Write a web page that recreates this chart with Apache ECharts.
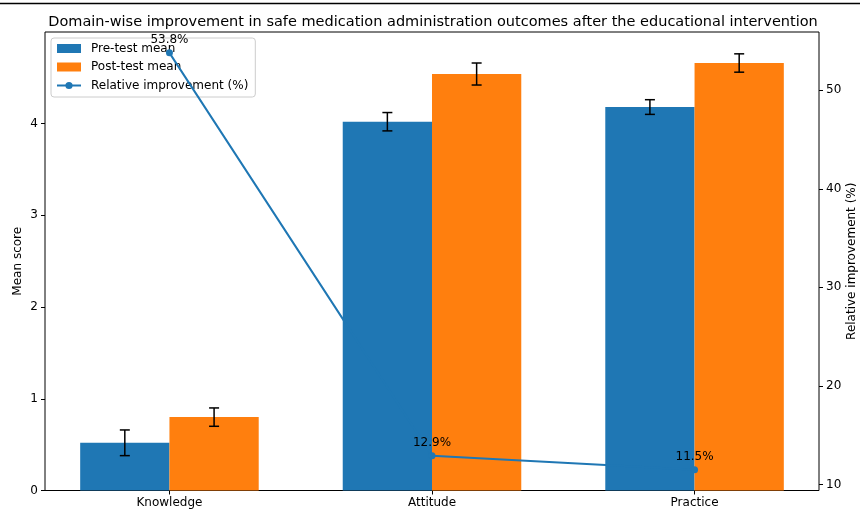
<!DOCTYPE html>
<html>
<head>
<meta charset="utf-8">
<script src="https://cdn.jsdelivr.net/npm/echarts@6/dist/echarts.min.js"></script>
<style>html,body{margin:0;padding:0;background:#fff}#c{width:860px;height:511px}</style>
</head>
<body>
<div id="c"></div>
<script>
const categories = ['Knowledge', 'Attitude', 'Practice'];
const preMean = [0.52, 4.02, 4.18];
const preErr = [0.14, 0.10, 0.08];
const postMean = [0.80, 4.54, 4.66];
const postErr = [0.10, 0.12, 0.10];
const improvement = [53.8, 12.9, 11.5];
const leftTicks = [0, 1, 2, 3, 4];
const rightTicks = [10, 20, 30, 40, 50];

const FONT = 'DejaVu Sans';
const BLUE = '#1f77b4', ORANGE = '#ff7f0e';
const BW = 0.34;

function barData(vals, off) { return vals.map((v, i) => [i + off, v]); }
function errData(vals, errs, off) { return vals.map((v, i) => [i + off, v, errs[i]]); }

function renderBar(params, api) {
  const x = api.value(0), y = api.value(1);
  const p0 = api.coord([x - BW / 2, y]);
  const p1 = api.coord([x + BW / 2, 0]);
  return { type: 'rect', shape: { x: p0[0], y: p0[1], width: p1[0] - p0[0], height: p1[1] - p0[1] },
    style: { fill: api.visual('color') } };
}
function renderErr(params, api) {
  const x = api.value(0), y = api.value(1), e = api.value(2);
  const top = api.coord([x, y + e]);
  const bot = api.coord([x, y - e]);
  const cap = 5;
  const st = { stroke: '#000', lineWidth: 1.5 };
  return { type: 'group', children: [
    { type: 'line', shape: { x1: top[0], y1: top[1], x2: bot[0], y2: bot[1] }, style: st },
    { type: 'line', shape: { x1: top[0] - cap, y1: top[1], x2: top[0] + cap, y2: top[1] }, style: st },
    { type: 'line', shape: { x1: bot[0] - cap, y1: bot[1], x2: bot[0] + cap, y2: bot[1] }, style: st }
  ]};
}

const chart = echarts.init(document.getElementById('c'), null, { renderer: 'canvas' });
chart.setOption({
  animation: false,
  textStyle: { fontFamily: FONT },
  title: {
    text: 'Domain-wise improvement in safe medication administration outcomes after the educational intervention',
    left: 428, top: 10, textAlign: 'center',
    textStyle: { fontFamily: FONT, fontSize: 14.5, fontWeight: 'normal', color: '#000' }
  },
  grid: { left: 45, right: 41, top: 32, bottom: 20.5, show: true, borderColor: '#000', borderWidth: 1,
    backgroundColor: 'transparent', containLabel: false, outerBoundsMode: 'none' },
  legend: {
    orient: 'vertical', left: 51, top: 38,
    padding: [3.5, 7, 4.5, 5], itemGap: 4.5, itemWidth: 24, itemHeight: 9,
    backgroundColor: 'rgba(255,255,255,0.8)', borderColor: '#cccccc', borderWidth: 1, borderRadius: 3,
    textStyle: { fontFamily: FONT, fontSize: 12, color: '#000', lineHeight: 14, padding: [0, 0, 0, 5] },
    data: [
      { name: 'Pre-test mean', icon: 'rect' },
      { name: 'Post-test mean', icon: 'rect' },
      { name: 'Relative improvement (%)' }
    ]
  },
  xAxis: {
    type: 'value', min: -0.474, max: 2.474,
    axisLine: { show: false, onZero: false },
    splitLine: { show: false },
    axisTick: { show: true, length: 4, customValues: [0, 1, 2], lineStyle: { color: '#000' } },
    axisLabel: { customValues: [0, 1, 2], formatter: v => categories[Math.round(v)] || '',
      fontFamily: FONT, fontSize: 12, color: '#000', margin: 6 }
  },
  yAxis: [
    {
      type: 'value', min: 0, max: 4.998, position: 'left',
      name: 'Mean score', nameLocation: 'middle', nameGap: 21, nameRotate: 90, nameMoveOverlap: false,
      nameTextStyle: { fontFamily: FONT, fontSize: 12, color: '#000' },
      axisLine: { show: false, onZero: false }, splitLine: { show: false },
      axisTick: { show: true, length: 4, customValues: leftTicks, lineStyle: { color: '#000' } },
      axisLabel: { customValues: leftTicks, fontFamily: FONT, fontSize: 12, color: '#000', margin: 7 }
    },
    {
      type: 'value', min: 9.385, max: 55.915, position: 'right',
      name: 'Relative improvement (%)', nameLocation: 'middle', nameGap: 27, nameRotate: 90, nameMoveOverlap: false,
      nameTextStyle: { fontFamily: FONT, fontSize: 12, color: '#000' },
      axisLine: { show: false, onZero: false }, splitLine: { show: false },
      axisTick: { show: true, length: 4, customValues: rightTicks, lineStyle: { color: '#000' } },
      axisLabel: { customValues: rightTicks, fontFamily: FONT, fontSize: 12, color: '#000', margin: 7 }
    }
  ],
  series: [
    { name: 'Pre-test mean', type: 'custom', renderItem: renderBar, itemStyle: { color: BLUE },
      data: barData(preMean, -BW / 2), z: 2, encode: { x: 0, y: 1 } },
    { name: 'Post-test mean', type: 'custom', renderItem: renderBar, itemStyle: { color: ORANGE },
      data: barData(postMean, BW / 2), z: 2, encode: { x: 0, y: 1 } },
    { name: 'preErr', type: 'custom', renderItem: renderErr, data: errData(preMean, preErr, -BW / 2), z: 3,
      encode: { x: 0, y: 1 } },
    { name: 'postErr', type: 'custom', renderItem: renderErr, data: errData(postMean, postErr, BW / 2), z: 3,
      encode: { x: 0, y: 1 } },
    { name: 'Relative improvement (%)', type: 'line', yAxisIndex: 1, z: 10,
      data: improvement.map((v, i) => [i, v]),
      symbol: 'circle', symbolSize: 7,
      lineStyle: { color: BLUE, width: 2 }, itemStyle: { color: BLUE },
      label: { show: true, position: 'top', distance: 3, formatter: p => p.value[1].toFixed(1) + '%',
        fontFamily: FONT, fontSize: 12, color: '#000' } }
  ],
  graphic: [
    { type: 'line', shape: { x1: 0, y1: 3.5, x2: 860, y2: 3.5 }, style: { stroke: '#000', lineWidth: 1.5 } }
  ]
});
</script>
</body>
</html>
